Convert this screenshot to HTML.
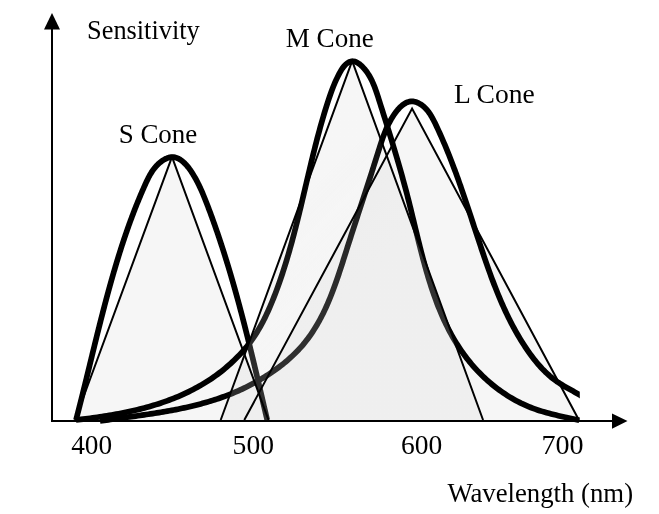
<!DOCTYPE html>
<html><head><meta charset="utf-8"><style>
html,body{margin:0;padding:0;background:#fff;width:659px;height:514px;overflow:hidden}
svg{display:block;filter:grayscale(1)}
text{font-family:"Liberation Serif",serif;font-size:27px;fill:#000}
</style></head><body>
<svg width="659" height="514" viewBox="0 0 659 514">
<defs>
<clipPath id="cm"><polygon points="220.70,420.00 352.16,60.93 483.07,420.00"/></clipPath>
<linearGradient id="mg" gradientUnits="userSpaceOnUse" x1="250" y1="250" x2="325" y2="325"><stop offset="0.000" stop-color="rgb(120,120,120)" stop-opacity="0.067"/><stop offset="0.300" stop-color="rgb(181,181,181)" stop-opacity="0.122"/><stop offset="0.630" stop-color="rgb(208,208,208)" stop-opacity="0.192"/><stop offset="1.000" stop-color="rgb(215,215,215)" stop-opacity="0.224"/></linearGradient>
<clipPath id="cl"><rect x="0" y="0" width="579.8" height="514"/></clipPath>
</defs>
<polygon points="75.00,420.00 172.00,156.80 268.50,420.00" fill="#f6f6f6"/>
<polygon points="244.30,420.00 412.08,108.52 578.90,420.00" fill="#f6f6f6"/>
<g fill="none" stroke-width="5.7" stroke-linecap="butt" stroke-linejoin="round">
<path d="M76.01,419.99L76.36,418.62 76.72,417.25 77.08,415.88 77.43,414.50 77.79,413.13 78.14,411.76 78.49,410.38 78.84,409.00 79.19,407.63 79.54,406.25 79.89,404.87 80.24,403.49 80.59,402.11 80.93,400.73 81.28,399.35 81.63,397.97 81.97,396.59 82.32,395.21 82.66,393.82 83.00,392.44 83.35,391.05 83.69,389.67 84.03,388.28 84.37,386.90 84.72,385.51 85.06,384.13 85.40,382.74 85.74,381.35 86.08,379.96 86.42,378.58 86.76,377.19 87.10,375.80 87.44,374.41 87.78,373.02 88.12,371.63 88.45,370.24 88.79,368.85 89.13,367.46 89.47,366.07 89.81,364.68 90.15,363.29 90.49,361.90 90.83,360.50 91.17,359.11 91.50,357.72 91.84,356.33 92.18,354.94 92.52,353.54 92.86,352.15 93.20,350.76 93.54,349.37 93.88,347.97 94.23,346.58 94.57,345.19 94.91,343.80 95.25,342.41 95.60,341.01 95.94,339.62 96.28,338.23 96.63,336.84 96.97,335.44 97.32,334.05 97.66,332.66 98.01,331.27 98.36,329.88 98.70,328.49 99.05,327.10 99.40,325.71 99.75,324.32 100.10,322.93 100.46,321.54 100.81,320.15 101.16,318.76 101.52,317.37 101.87,315.98 102.23,314.59 102.59,313.20 102.94,311.82 103.30,310.43 103.66,309.04 104.02,307.66 104.39,306.27 104.75,304.89 105.11,303.50 105.48,302.12 105.85,300.73 106.22,299.35 106.58,297.97 106.96,296.59 107.33,295.20 107.70,293.82 108.08,292.44 108.45,291.06 108.83,289.68 109.21,288.31 109.59,286.93 109.97,285.55 110.35,284.18 110.74,282.80 111.12,281.43 111.51,280.05 111.90,278.68 112.29,277.31 112.69,275.93 113.08,274.56 113.48,273.19 113.87,271.82 114.27,270.46 114.68,269.09 115.08,267.72 115.48,266.36 115.89,264.99 116.30,263.63 116.71,262.26 117.12,260.90 117.54,259.54 117.96,258.18 118.37,256.82 118.80,255.47 119.22,254.11 119.64,252.75 120.07,251.40 120.50,250.05 120.93,248.69 121.36,247.34 121.80,245.99 122.24,244.64 122.68,243.30 123.12,241.95 123.57,240.60 124.01,239.26 124.46,237.92 124.92,236.58 125.37,235.24 125.83,233.90 126.29,232.56 126.75,231.22 127.22,229.88 127.69,228.55 128.16,227.21 128.63,225.88 129.11,224.54 129.59,223.21 130.07,221.88 130.56,220.54 131.05,219.21 131.55,217.88 132.04,216.55 132.55,215.22 133.05,213.88 133.56,212.55 134.07,211.22 134.59,209.89 135.11,208.56 135.63,207.23 136.16,205.90 136.69,204.56 137.23,203.23 137.77,201.90 138.32,200.56 138.87,199.23 139.42,197.90 139.98,196.56 140.54,195.23 141.11,193.89 141.68,192.55 142.26,191.21 142.84,189.87 143.43,188.53 144.02,187.19 144.62,185.85 145.22,184.51 145.83,183.16 146.45,181.82 147.08,180.48 147.73,179.15 148.40,177.82 149.08,176.51 149.80,175.21 150.54,173.92 151.31,172.65 152.12,171.40 152.96,170.17 153.85,168.97 154.78,167.79 155.76,166.64 156.78,165.52 157.85,164.44 158.96,163.41 160.10,162.43 161.27,161.51 162.47,160.65 163.68,159.88 164.92,159.18 166.16,158.57 167.41,158.06 168.67,157.65 169.92,157.36 171.17,157.17 172.41,157.12 173.63,157.19 174.84,157.38 176.04,157.68 177.21,158.10 178.38,158.62 179.52,159.24 180.66,159.96 181.77,160.76 182.86,161.64 183.94,162.60 185.00,163.63 186.03,164.73 187.05,165.88 188.05,167.09 189.03,168.35 189.98,169.65 190.91,170.98 191.82,172.35 192.71,173.74 193.57,175.15 194.41,176.58 195.23,178.01 196.02,179.45 196.78,180.88 197.52,182.31 198.23,183.72 198.91,185.11 199.57,186.48 200.20,187.82 200.80,189.13 201.39,190.43 201.95,191.71 202.50,192.98 203.03,194.24 203.55,195.49 204.06,196.73 204.57,197.98 205.07,199.22 205.56,200.47 206.06,201.73 206.55,203.00 207.05,204.27 207.54,205.55 208.04,206.84 208.53,208.13 209.02,209.43 209.51,210.73 210.00,212.04 210.49,213.36 210.98,214.68 211.46,216.00 211.95,217.33 212.43,218.66 212.92,220.00 213.40,221.34 213.88,222.69 214.36,224.04 214.83,225.39 215.31,226.74 215.78,228.10 216.25,229.46 216.72,230.82 217.19,232.18 217.66,233.54 218.12,234.91 218.58,236.28 219.04,237.64 219.50,239.01 219.96,240.38 220.41,241.75 220.86,243.12 221.31,244.48 221.76,245.85 222.20,247.22 222.65,248.59 223.09,249.96 223.53,251.33 223.96,252.70 224.40,254.07 224.83,255.44 225.26,256.81 225.69,258.18 226.11,259.55 226.54,260.92 226.96,262.29 227.38,263.66 227.80,265.03 228.22,266.41 228.63,267.78 229.04,269.15 229.45,270.52 229.86,271.89 230.27,273.27 230.68,274.64 231.08,276.01 231.48,277.38 231.88,278.76 232.28,280.13 232.68,281.50 233.07,282.88 233.47,284.25 233.86,285.62 234.25,287.00 234.64,288.37 235.03,289.75 235.41,291.12 235.80,292.50 236.18,293.87 236.56,295.25 236.94,296.62 237.32,298.00 237.69,299.37 238.07,300.75 238.44,302.13 238.82,303.50 239.19,304.88 239.56,306.26 239.93,307.64 240.29,309.01 240.66,310.39 241.03,311.77 241.39,313.15 241.75,314.52 242.11,315.90 242.47,317.28 242.83,318.66 243.19,320.04 243.55,321.42 243.90,322.80 244.26,324.18 244.61,325.56 244.96,326.94 245.31,328.32 245.66,329.70 246.01,331.08 246.36,332.46 246.71,333.84 247.06,335.23 247.40,336.61 247.75,337.99 248.09,339.37 248.43,340.75 248.78,342.14 249.12,343.52 249.46,344.90 249.80,346.29 250.14,347.67 250.48,349.06 250.81,350.44 251.15,351.82 251.49,353.21 251.82,354.59 252.16,355.98 252.49,357.37 252.83,358.75 253.16,360.14 253.49,361.52 253.82,362.91 254.16,364.30 254.49,365.68 254.82,367.07 255.15,368.46 255.48,369.85 255.81,371.24 256.14,372.62 256.47,374.01 256.79,375.40 257.12,376.79 257.45,378.18 257.78,379.57 258.10,380.96 258.43,382.35 258.76,383.74 259.08,385.13 259.41,386.52 259.74,387.92 260.06,389.31 260.39,390.70 260.71,392.09 261.04,393.48 261.36,394.88 261.69,396.27 262.01,397.66 262.34,399.06 262.66,400.45 262.99,401.85 263.31,403.24 263.64,404.64 263.96,406.03 264.29,407.43 264.61,408.82 264.94,410.22 265.27,411.62 265.59,413.01 265.92,414.41 266.24,415.81 266.57,417.20 266.90,418.60 267.22,420.00" stroke="#000"/>
<path d="M100.01,421.00L102.08,420.70 104.16,420.40 106.24,420.10 108.32,419.81 110.41,419.52 112.50,419.23 114.59,418.94 116.69,418.65 118.79,418.37 120.89,418.08 123.00,417.79 125.11,417.51 127.22,417.22 129.33,416.93 131.44,416.64 133.56,416.35 135.67,416.06 137.79,415.76 139.91,415.46 142.03,415.16 144.14,414.86 146.26,414.55 148.38,414.23 150.50,413.91 152.61,413.59 154.73,413.26 156.85,412.93 158.96,412.59 161.07,412.24 163.18,411.89 165.29,411.52 167.40,411.15 169.50,410.78 171.60,410.39 173.70,410.00 175.80,409.60 177.89,409.18 179.98,408.76 182.06,408.33 184.14,407.89 186.22,407.43 188.29,406.97 190.36,406.49 192.43,406.01 194.48,405.51 196.54,404.99 198.58,404.47 200.63,403.93 202.66,403.37 204.69,402.81 206.72,402.23 208.73,401.63 210.75,401.02 212.75,400.39 214.75,399.75 216.75,399.10 218.74,398.43 220.72,397.74 222.70,397.03 224.67,396.31 226.63,395.57 228.59,394.82 230.55,394.05 232.49,393.26 234.43,392.45 236.37,391.63 238.30,390.78 240.22,389.92 242.14,389.04 244.05,388.14 245.96,387.22 247.85,386.28 249.75,385.32 251.63,384.34 253.51,383.34 255.39,382.32 257.26,381.28 259.12,380.22 260.98,379.13 262.83,378.03 264.67,376.90 266.50,375.75 268.33,374.58 270.14,373.39 271.94,372.18 273.73,370.95 275.50,369.69 277.26,368.42 279.01,367.12 280.73,365.81 282.44,364.47 284.13,363.11 285.80,361.74 287.45,360.34 289.08,358.92 290.68,357.48 292.27,356.02 293.82,354.54 295.35,353.05 296.85,351.53 298.33,349.99 299.77,348.43 301.19,346.85 302.57,345.26 303.93,343.64 305.25,342.01 306.55,340.35 307.82,338.68 309.06,336.99 310.28,335.29 311.47,333.57 312.63,331.83 313.77,330.07 314.88,328.31 315.97,326.52 317.04,324.72 318.09,322.91 319.11,321.08 320.11,319.25 321.10,317.39 322.06,315.53 323.00,313.65 323.93,311.76 324.83,309.86 325.72,307.95 326.59,306.03 327.45,304.10 328.29,302.16 329.11,300.22 329.92,298.26 330.72,296.29 331.50,294.32 332.27,292.34 333.03,290.35 333.78,288.35 334.51,286.35 335.24,284.35 335.96,282.33 336.67,280.32 337.37,278.29 338.06,276.27 338.74,274.24 339.42,272.21 340.09,270.17 340.76,268.13 341.43,266.09 342.09,264.05 342.74,262.01 343.39,259.96 344.05,257.92 344.70,255.87 345.34,253.83 345.99,251.79 346.64,249.74 347.29,247.70 347.94,245.66 348.59,243.63 349.25,241.59 349.90,239.56 350.55,237.52 351.21,235.49 351.86,233.46 352.52,231.43 353.17,229.41 353.83,227.38 354.49,225.35 355.14,223.33 355.80,221.31 356.46,219.29 357.12,217.27 357.77,215.25 358.43,213.23 359.09,211.21 359.75,209.19 360.40,207.18 361.06,205.16 361.72,203.15 362.37,201.14 363.03,199.12 363.69,197.11 364.34,195.10 365.00,193.09 365.65,191.08 366.31,189.07 366.96,187.06 367.61,185.05 368.26,183.04 368.91,181.04 369.56,179.03 370.21,177.02 370.86,175.02 371.51,173.01 372.15,171.00 372.80,169.00 373.44,166.99 374.09,164.99 374.73,162.98 375.37,160.97 376.01,158.97 376.64,156.96 377.28,154.96 377.91,152.95 378.54,150.94 379.18,148.94 379.81,146.93 380.44,144.93 381.09,142.92 381.75,140.92 382.43,138.92 383.13,136.92 383.86,134.92 384.62,132.93 385.42,130.94 386.26,128.96 387.14,126.98 388.07,125.01 389.06,123.05 390.11,121.09 391.21,119.13 392.39,117.19 393.63,115.26 394.94,113.35 396.32,111.51 397.76,109.74 399.26,108.08 400.82,106.54 402.42,105.16 404.08,103.95 405.78,102.94 407.53,102.16 409.31,101.62 411.13,101.36 412.98,101.39 414.86,101.71 416.73,102.29 418.60,103.12 420.42,104.16 422.20,105.40 423.91,106.80 425.53,108.34 427.05,110.00 428.44,111.76 429.73,113.58 430.92,115.45 432.03,117.36 433.08,119.27 434.07,121.19 435.02,123.11 435.94,125.04 436.86,126.97 437.76,128.91 438.66,130.84 439.54,132.78 440.42,134.73 441.28,136.67 442.14,138.62 442.99,140.57 443.83,142.53 444.66,144.48 445.48,146.44 446.30,148.40 447.11,150.37 447.91,152.33 448.70,154.30 449.48,156.27 450.26,158.25 451.03,160.22 451.80,162.20 452.56,164.18 453.31,166.16 454.05,168.14 454.80,170.13 455.53,172.12 456.26,174.10 456.98,176.10 457.70,178.09 458.42,180.08 459.13,182.08 459.84,184.08 460.54,186.07 461.24,188.07 461.93,190.08 462.62,192.08 463.31,194.08 463.99,196.09 464.67,198.10 465.35,200.10 466.03,202.11 466.70,204.12 467.37,206.13 468.04,208.14 468.71,210.16 469.38,212.17 470.05,214.18 470.71,216.20 471.37,218.21 472.04,220.23 472.70,222.25 473.36,224.26 474.02,226.28 474.69,228.30 475.35,230.32 476.01,232.34 476.68,234.35 477.34,236.37 478.01,238.39 478.68,240.41 479.34,242.43 480.02,244.45 480.69,246.47 481.36,248.48 482.04,250.50 482.72,252.52 483.41,254.54 484.09,256.55 484.78,258.57 485.48,260.58 486.17,262.60 486.88,264.61 487.58,266.62 488.29,268.63 489.01,270.64 489.73,272.64 490.46,274.64 491.20,276.64 491.94,278.64 492.69,280.63 493.44,282.62 494.20,284.61 494.97,286.59 495.75,288.57 496.54,290.55 497.33,292.52 498.13,294.49 498.94,296.45 499.77,298.41 500.60,300.36 501.44,302.31 502.29,304.25 503.15,306.19 504.02,308.12 504.90,310.05 505.80,311.97 506.71,313.89 507.62,315.79 508.55,317.70 509.50,319.59 510.45,321.48 511.42,323.36 512.41,325.23 513.40,327.10 514.41,328.96 515.44,330.81 516.47,332.65 517.53,334.49 518.60,336.31 519.68,338.13 520.78,339.94 521.90,341.74 523.03,343.53 524.18,345.31 525.35,347.08 526.53,348.85 527.73,350.60 528.95,352.34 530.18,354.07 531.44,355.79 532.72,357.49 534.02,359.17 535.34,360.84 536.68,362.48 538.04,364.10 539.43,365.70 540.85,367.28 542.29,368.83 543.76,370.35 545.25,371.84 546.78,373.30 548.33,374.72 549.91,376.11 551.53,377.46 553.17,378.78 554.85,380.05 556.56,381.29 558.30,382.48 560.08,383.64 561.88,384.76 563.70,385.85 565.53,386.93 567.39,387.98 569.25,389.03 571.11,390.07 572.98,391.10 574.85,392.15 576.71,393.20 578.56,394.26 580.39,395.35 582.20,396.46 584.00,397.61" stroke="#000" clip-path="url(#cl)"/>
<path d="M75.99,419.98L78.37,419.71 80.74,419.43 83.12,419.14 85.50,418.85 87.88,418.55 90.26,418.24 92.64,417.92 95.02,417.59 97.39,417.25 99.77,416.91 102.15,416.55 104.52,416.18 106.89,415.80 109.26,415.41 111.63,415.01 114.00,414.60 116.36,414.17 118.72,413.73 121.08,413.28 123.43,412.81 125.78,412.33 128.12,411.84 130.46,411.33 132.80,410.80 135.13,410.26 137.46,409.70 139.78,409.13 142.09,408.54 144.40,407.93 146.70,407.31 149.00,406.67 151.29,406.01 153.57,405.33 155.84,404.63 158.11,403.91 160.37,403.17 162.62,402.41 164.86,401.64 167.10,400.84 169.32,400.02 171.54,399.17 173.75,398.31 175.95,397.42 178.13,396.51 180.31,395.58 182.48,394.62 184.63,393.64 186.78,392.63 188.91,391.60 191.04,390.54 193.15,389.46 195.25,388.35 197.33,387.22 199.41,386.06 201.47,384.87 203.52,383.65 205.55,382.41 207.57,381.14 209.58,379.84 211.57,378.51 213.55,377.15 215.52,375.76 217.47,374.34 219.40,372.89 221.32,371.41 223.21,369.90 225.09,368.36 226.95,366.80 228.78,365.21 230.60,363.59 232.39,361.95 234.15,360.28 235.89,358.58 237.60,356.86 239.28,355.11 240.93,353.34 242.55,351.55 244.14,349.73 245.70,347.88 247.23,346.02 248.71,344.13 250.17,342.23 251.58,340.30 252.96,338.35 254.30,336.38 255.60,334.39 256.87,332.38 258.10,330.35 259.30,328.31 260.47,326.25 261.61,324.17 262.72,322.08 263.81,319.98 264.87,317.86 265.90,315.73 266.91,313.59 267.90,311.44 268.87,309.27 269.82,307.10 270.75,304.92 271.67,302.73 272.57,300.54 273.45,298.33 274.32,296.13 275.18,293.91 276.03,291.69 276.86,289.47 277.68,287.24 278.49,285.00 279.29,282.76 280.07,280.51 280.85,278.26 281.61,276.01 282.37,273.75 283.11,271.48 283.84,269.21 284.56,266.94 285.28,264.66 285.98,262.38 286.67,260.09 287.36,257.80 288.04,255.51 288.71,253.21 289.37,250.91 290.02,248.60 290.67,246.30 291.31,243.99 291.94,241.67 292.56,239.36 293.18,237.04 293.79,234.72 294.40,232.40 295.00,230.07 295.60,227.75 296.19,225.42 296.78,223.09 297.36,220.75 297.94,218.42 298.51,216.08 299.08,213.75 299.65,211.41 300.22,209.07 300.78,206.73 301.34,204.39 301.89,202.05 302.45,199.71 303.00,197.37 303.55,195.02 304.10,192.68 304.65,190.34 305.20,188.00 305.75,185.66 306.30,183.32 306.85,180.97 307.40,178.63 307.95,176.30 308.50,173.96 309.06,171.62 309.61,169.28 310.17,166.95 310.73,164.62 311.29,162.29 311.85,159.96 312.42,157.63 312.99,155.30 313.56,152.98 314.14,150.66 314.72,148.34 315.30,146.02 315.89,143.71 316.49,141.40 317.09,139.09 317.69,136.78 318.31,134.48 318.92,132.18 319.55,129.89 320.18,127.60 320.81,125.31 321.46,123.03 322.11,120.75 322.77,118.47 323.43,116.20 324.11,113.93 324.79,111.67 325.48,109.41 326.19,107.16 326.90,104.91 327.62,102.67 328.35,100.43 329.09,98.20 329.84,95.97 330.62,93.73 331.42,91.50 332.26,89.26 333.13,87.01 334.05,84.74 335.02,82.47 336.05,80.17 337.14,77.85 338.30,75.50 339.53,73.13 340.85,70.78 342.28,68.52 343.82,66.45 345.51,64.63 347.32,63.14 349.23,62.03 351.20,61.38 353.20,61.24 355.22,61.65 357.21,62.54 359.15,63.81 361.01,65.35 362.77,67.05 364.41,68.86 365.94,70.74 367.36,72.69 368.68,74.71 369.90,76.79 371.05,78.92 372.11,81.10 373.11,83.33 374.05,85.59 374.94,87.88 375.79,90.19 376.59,92.52 377.37,94.87 378.13,97.22 378.88,99.57 379.62,101.91 380.36,104.25 381.10,106.58 381.84,108.90 382.57,111.22 383.30,113.53 384.02,115.84 384.75,118.14 385.47,120.44 386.18,122.73 386.90,125.02 387.61,127.30 388.32,129.58 389.02,131.86 389.72,134.13 390.42,136.40 391.12,138.67 391.81,140.94 392.50,143.20 393.18,145.46 393.86,147.72 394.54,149.98 395.21,152.24 395.88,154.50 396.55,156.76 397.21,159.01 397.87,161.27 398.53,163.53 399.18,165.79 399.83,168.05 400.47,170.31 401.11,172.58 401.75,174.85 402.38,177.11 403.01,179.39 403.63,181.66 404.25,183.94 404.87,186.22 405.48,188.51 406.09,190.80 406.69,193.09 407.29,195.39 407.88,197.69 408.47,200.00 409.06,202.32 409.64,204.64 410.21,206.96 410.79,209.29 411.36,211.62 411.93,213.96 412.50,216.30 413.07,218.65 413.64,220.99 414.20,223.34 414.77,225.69 415.34,228.05 415.91,230.40 416.48,232.76 417.05,235.11 417.62,237.47 418.20,239.83 418.79,242.19 419.37,244.54 419.96,246.90 420.56,249.26 421.16,251.61 421.77,253.96 422.38,256.31 423.00,258.66 423.63,261.01 424.26,263.35 424.90,265.69 425.56,268.02 426.22,270.35 426.89,272.68 427.57,275.00 428.26,277.32 428.96,279.63 429.67,281.94 430.40,284.24 431.14,286.53 431.89,288.82 432.65,291.10 433.43,293.37 434.22,295.64 435.03,297.89 435.85,300.14 436.69,302.38 437.54,304.62 438.41,306.84 439.30,309.05 440.21,311.25 441.13,313.45 442.07,315.63 443.03,317.80 444.01,319.96 445.01,322.11 446.03,324.24 447.07,326.37 448.13,328.48 449.21,330.58 450.32,332.66 451.45,334.74 452.60,336.79 453.77,338.84 454.97,340.87 456.20,342.88 457.45,344.88 458.72,346.87 460.02,348.83 461.35,350.79 462.70,352.72 464.08,354.64 465.49,356.54 466.92,358.43 468.39,360.29 469.88,362.14 471.40,363.97 472.96,365.78 474.54,367.57 476.15,369.34 477.78,371.09 479.45,372.82 481.14,374.52 482.85,376.20 484.60,377.85 486.37,379.48 488.16,381.09 489.98,382.66 491.82,384.22 493.68,385.74 495.57,387.23 497.49,388.69 499.42,390.13 501.38,391.53 503.35,392.90 505.35,394.24 507.37,395.54 509.41,396.81 511.47,398.05 513.55,399.25 515.65,400.42 517.76,401.54 519.90,402.63 522.05,403.69 524.22,404.70 526.40,405.67 528.60,406.60 530.82,407.49 533.05,408.34 535.30,409.16 537.56,409.93 539.83,410.67 542.11,411.38 544.40,412.06 546.71,412.72 549.01,413.34 551.33,413.95 553.65,414.54 555.98,415.10 558.31,415.66 560.64,416.20 562.98,416.72 565.32,417.24 567.65,417.76 569.99,418.27 572.32,418.77 574.65,419.28 576.98,419.79 579.30,420.31" stroke="#000"/>
</g>
<polygon points="220.70,420.00 352.16,60.93 483.07,420.00" fill="url(#mg)"/>
<g fill="none" stroke="#000" stroke-width="2.0" stroke-linejoin="miter" stroke-miterlimit="20">
<polyline points="75.00,420.00 172.00,156.80 268.50,420.00"/>
<polyline points="220.70,420.00 352.16,60.93 483.07,420.00"/>
<polyline points="244.30,420.00 412.08,108.52 578.90,420.00"/>
</g>
<g stroke="#000" stroke-width="2" fill="none">
<line x1="52" y1="28" x2="52" y2="421"/>
<line x1="51" y1="421" x2="613" y2="421"/>
</g>
<polygon points="52,13 44,29.5 60,29.5" fill="#000"/>
<polygon points="627.5,421 612,413.5 612,428.8" fill="#000"/>
<text x="87.05" y="38.6" textLength="112.67" lengthAdjust="spacingAndGlyphs">Sensitivity</text>
<text x="285.78" y="46.5" textLength="88.02" lengthAdjust="spacingAndGlyphs">M Cone</text>
<text x="453.95" y="103.1" textLength="80.81" lengthAdjust="spacingAndGlyphs">L Cone</text>
<text x="118.67" y="142.7" textLength="78.62" lengthAdjust="spacingAndGlyphs">S Cone</text>
<text x="71.17" y="454" textLength="40.95" lengthAdjust="spacingAndGlyphs">400</text>
<text x="232.6" y="454" textLength="41.35" lengthAdjust="spacingAndGlyphs">500</text>
<text x="400.9" y="454" textLength="41.27" lengthAdjust="spacingAndGlyphs">600</text>
<text x="541.5" y="454" textLength="42.16" lengthAdjust="spacingAndGlyphs">700</text>
<text x="447.4" y="501.7" textLength="185.65" lengthAdjust="spacingAndGlyphs">Wavelength (nm)</text>
</svg>
</body></html>
